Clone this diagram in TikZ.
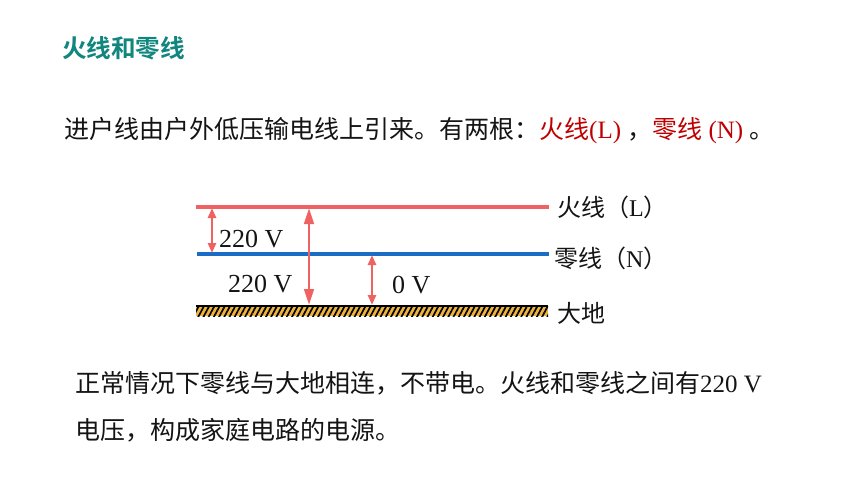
\documentclass[tikz,border=0pt]{standalone}
\usepackage{fontspec}
\setmainfont{Liberation Serif}
\newfontfamily\cjk{Noto Sans CJK SC}[BoldFont={Noto Sans CJK SC Bold}]
\usetikzlibrary{arrows.meta,patterns.meta}
\definecolor{titleteal}{RGB}{16,134,126}
\definecolor{hotred}{RGB}{192,0,0}
\definecolor{linered}{RGB}{240,98,98}
\definecolor{lineblue}{RGB}{26,108,196}
\definecolor{groundfill}{RGB}{238,180,64}
\definecolor{textblack}{RGB}{20,20,20}
\tikzset{
  txt/.style={anchor=west,inner sep=0pt,text=textblack},
  wire/.style={line width=3.2pt},
  bigarrow/.style={draw=linered,line width=2.8pt,{Triangle[length=16pt,width=9.5pt]}-{Triangle[length=16pt,width=9.5pt]}},
  smallarrow/.style={draw=linered,line width=2.6pt,{Triangle[length=10pt,width=8pt]}-{Triangle[length=10pt,width=8pt]}},
  volt/.style={inner sep=0pt,text=textblack,font=\fontsize{26}{30}\selectfont},
  lbl/.style={anchor=west,inner sep=0pt,text=textblack,font=\fontsize{24}{28}\selectfont},
}
\begin{document}
\begin{tikzpicture}[x=1pt,y=-1pt]
\useasboundingbox[fill=white] (0,0) rectangle (860,484);
% title
\node[txt,text=titleteal,font=\fontsize{24.6}{28}\selectfont] (title) at (62,48) {\cjk\bfseries 火线和零线};
% line 1
\node[txt,font=\fontsize{25}{29}\selectfont] (intro) at (64,131)
  {{\cjk 进户线由户外低压输电线上引来。有两根：}\textcolor{hotred}{{\cjk 火线}(L)} {\cjk ，}\textcolor{hotred}{{\cjk 零线} (N)} {\cjk 。}};
% wires
\coordinate (L1) at (196,207); \coordinate (L2) at (549,207);
\coordinate (N1) at (197,254); \coordinate (N2) at (549,254);
\coordinate (G1) at (196,306); \coordinate (G2) at (548,316);
\draw[wire,linered] (L1) -- (L2);
\draw[wire,lineblue] (N1) -- (N2);
\fill[groundfill] (G1) rectangle (G2);
\fill[pattern={Lines[angle=62,distance=4.6pt,line width=1.7pt]},pattern color=black] (G1) rectangle (G2);
\draw[line width=1.6pt,black] (G1) -- (G1 -| G2);
% arrows
\coordinate (a1t) at (212,208); \coordinate (a1b) at (212,253);
\coordinate (a2t) at (309,208); \coordinate (a2b) at (309,305);
\coordinate (a3t) at (372,255); \coordinate (a3b) at (372,305);
\draw[smallarrow] (a1t) -- (a1b);
\draw[bigarrow] (a2t) -- (a2b);
\draw[smallarrow] (a3t) -- (a3b);
% voltage labels
\node[volt,anchor=west] (v1) at (219,239) {220 V};
\node[volt,anchor=west] (v2) at (228,284) {220 V};
\node[volt,anchor=west] (v3) at (392,285) {0 V};
% wire labels
\node[lbl] (lL) at (557,207) {{\cjk 火线（}L{\cjk ）}};
\node[lbl] (lN) at (554,258) {{\cjk 零线（}N{\cjk ）}};
\node[lbl] (lG) at (557,313) {\cjk 大地};
% bottom text
\node[txt,font=\fontsize{25}{29}\selectfont] (b1) at (75,383)
  {{\cjk 正常情况下零线与大地相连，不带电。火线和零线之间有}220 V};
\node[txt,font=\fontsize{25}{29}\selectfont] (b2) at (75,430)
  {\cjk 电压，构成家庭电路的电源。};
\end{tikzpicture}
\end{document}
